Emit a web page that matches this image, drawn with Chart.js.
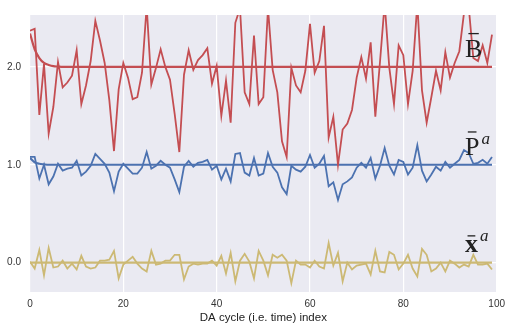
<!DOCTYPE html>
<html>
<head>
<meta charset="utf-8">
<script src="https://cdn.jsdelivr.net/npm/chart.js@4/dist/chart.umd.min.js"></script>
<style>
  html, body { margin: 0; padding: 0; background: #fff; }
  #wrap { width: 511px; height: 326px; }
</style>
</head>
<body>
<div id="wrap"><canvas id="grafico"></canvas></div>
<script>
// valores (indice 0..99)
const ciclos = Array.from({ length: 100 }, (_, i) => i)

const valoresB = [2.37, 2.39, 1.51, 2.03, 1.32, 1.59, 2.05, 1.79, 1.84, 1.91,
  2.17, 1.62, 1.81, 2.06, 2.47, 2.27, 2.04, 1.66, 1.14, 1.77,
  2.04, 1.89, 1.67, 1.69, 1.94, 2.62, 1.82, 1.99, 2.18, 2.00,
  1.87, 1.52, 1.13, 1.92, 2.17, 1.97, 2.07, 2.12, 2.19, 1.83,
  2.01, 1.50, 1.86, 1.43, 2.45, 2.60, 1.74, 1.62, 2.32, 1.62,
  1.69, 2.60, 1.97, 1.74, 1.24, 1.08, 1.99, 1.81, 1.74, 1.96,
  2.44, 1.94, 2.06, 2.42, 1.28, 1.49, 1.00, 1.36, 1.42, 1.56,
  1.89, 2.10, 1.88, 2.25, 1.49, 2.05, 2.65, 1.99, 1.62, 2.22,
  2.12, 1.62, 1.96, 2.65, 1.76, 1.43, 1.69, 1.96, 1.76, 2.15,
  1.89, 2.04, 2.16, 2.55, 2.62, 2.09, 2.06, 2.22, 2.04, 2.33]

const valoresP = [1.08, 1.08, 0.86, 1.00, 0.80, 0.88, 1.01, 0.94, 0.96, 0.97,
  1.04, 0.89, 0.93, 0.99, 1.11, 1.06, 1.01, 0.92, 0.73, 0.93,
  1.01, 0.96, 0.91, 0.91, 0.97, 1.13, 0.96, 0.99, 1.04, 1.00,
  0.97, 0.85, 0.72, 0.98, 1.04, 0.98, 1.02, 1.03, 1.05, 0.95,
  0.99, 0.85, 0.96, 0.83, 1.11, 1.12, 0.92, 0.89, 1.07, 0.89,
  0.91, 1.12, 0.98, 0.92, 0.77, 0.70, 0.99, 0.95, 0.93, 0.98,
  1.10, 0.97, 1.01, 1.09, 0.78, 0.82, 0.64, 0.80, 0.83, 0.87,
  0.97, 1.02, 0.97, 1.07, 0.86, 0.99, 1.17, 0.99, 0.90, 1.05,
  1.03, 0.90, 0.97, 1.20, 0.94, 0.83, 0.90, 0.98, 0.94, 1.03,
  0.97, 1.01, 1.05, 1.15, 1.12, 1.01, 1.02, 1.05, 1.01, 1.08]

const valoresX = [0.01, -0.06, 0.13, -0.13, 0.15, -0.05, -0.04, 0.02, -0.06, -0.01,
  -0.07, 0.07, -0.04, -0.06, -0.05, 0.02, 0.02, 0.03, 0.12, -0.16,
  -0.02, 0.02, 0.06, -0.01, -0.06, -0.09, 0.12, -0.02, -0.01, 0.02,
  0.02, 0.08, 0.08, -0.17, -0.04, -0.01, -0.02, -0.01, -0.01, 0.02,
  -0.03, 0.07, -0.11, 0.10, -0.19, 0.02, 0.09, 0.01, -0.16, 0.12,
  0.02, -0.13, 0.08, 0.05, 0.08, 0.02, -0.21, 0.02, -0.02, -0.02,
  -0.05, 0.02, -0.04, -0.06, 0.20, -0.03, 0.10, -0.19, 0.00, -0.07,
  -0.03, -0.02, -0.01, -0.12, 0.12, -0.09, -0.10, 0.11, 0.08, -0.07,
  -0.01, 0.08, -0.06, -0.14, 0.14, 0.08, -0.09, -0.06, 0.00, -0.09,
  0.02, -0.01, -0.05, -0.02, -0.04, 0.08, -0.02, -0.02, -0.01, -0.07]

// curvas teoricas (puntos x, y)
const teoricaB = [[0, 2.34], [1, 2.18], [2, 2.09], [3, 2.04], [4, 2.02], [5, 2.007], [6, 2.003], [7, 2.0], [99, 2.0]]
const teoricaP = [[0, 1.07], [1, 1.026], [2, 1.01], [3, 1.004], [4, 1.0], [99, 1.0]]
const teoricaX = [[0, 0.0], [99, 0.0]]

const ticksX = [0, 20, 40, 60, 80, 100]
const ticksY = [0, 1, 2]

const rojo = '#c44e52'
const azul = '#4c72b0'
const amarillo = '#ccb974'

function aPuntos(valores) {
  return valores.map((v, i) => ({ x: ciclos[i], y: v }))
}
function aXY(pares) {
  return pares.map(p => ({ x: p[0], y: p[1] }))
}

// fondo gris estilo seaborn
const fondo = {
  id: 'fondo',
  beforeDraw(chart) {
    const a = chart.chartArea
    const c = chart.ctx
    c.save()
    c.fillStyle = '#eaeaf2'
    c.fillRect(a.left, a.top, a.right - a.left, a.bottom - a.top)
    c.restore()
  }
}

// etiquetas a la derecha de cada curva
const etiquetas = {
  id: 'etiquetas',
  afterDatasetsDraw(chart) {
    const c = chart.ctx
    const sx = chart.scales.x
    const sy = chart.scales.y
    const items = [
      { letra: 'B', sup: '', y: 2.105, bold: false },
      { letra: 'P', sup: 'a', y: 1.10, bold: false },
      { letra: 'x', sup: 'a', y: 0.11, bold: true }
    ]
    c.save()
    c.fillStyle = '#222'
    c.strokeStyle = '#222'
    c.textBaseline = 'alphabetic'
    items.forEach(it => {
      const px = sx.getPixelForValue(93.2)
      const py = sy.getPixelForValue(it.y)
      c.font = (it.bold ? 'bold ' : '') + '26px "Liberation Serif"'
      c.fillText(it.letra, px, py)
      const w = c.measureText(it.letra).width
      // barra (macron)
      const alto = it.letra === 'x' ? 12 : 19
      c.lineWidth = 1.3
      c.beginPath()
      c.moveTo(px + w * 0.2, py - alto - 4)
      c.lineTo(px + w * 0.8, py - alto - 4)
      c.stroke()
      if (it.sup) {
        c.font = 'italic 17px "Liberation Serif"'
        c.fillText(it.sup, px + w + 2, py - 11)
      }
    })
    c.restore()
  }
}

const ctx = document.getElementById('grafico')

new Chart(ctx, {
  type: 'line',
  data: {
    datasets: [
      { data: aXY(teoricaB), borderColor: rojo, borderWidth: 2.2, cubicInterpolationMode: 'monotone' },
      { data: aPuntos(valoresB), borderColor: rojo, borderWidth: 1.8 },
      { data: aXY(teoricaP), borderColor: azul, borderWidth: 2.2, cubicInterpolationMode: 'monotone' },
      { data: aPuntos(valoresP), borderColor: azul, borderWidth: 1.8 },
      { data: aXY(teoricaX), borderColor: amarillo, borderWidth: 2.2 },
      { data: aPuntos(valoresX), borderColor: amarillo, borderWidth: 1.8 }
    ]
  },
  options: {
    responsive: true,
    maintainAspectRatio: false,
    animation: false,
    events: [],
    elements: { point: { radius: 0 }, line: { tension: 0 } },
    layout: { padding: { left: 0, right: 11, top: 5, bottom: 0 } },
    plugins: { legend: { display: false }, tooltip: { enabled: false } },
    scales: {
      x: {
        type: 'linear',
        min: 0,
        max: 100,
        afterBuildTicks: s => { s.ticks = ticksX.map(v => ({ value: v })) },
        afterFit: s => { s.height = 34 },
        grid: { color: '#ffffff', lineWidth: 1.2, drawTicks: false },
        border: { display: false },
        ticks: { color: '#333', padding: 6, font: { family: 'Liberation Sans', size: 10 } },
        title: {
          display: true,
          text: 'DA cycle (i.e. time) index',
          color: '#222',
          padding: { top: 0, bottom: 1 },
          font: { family: 'Liberation Sans', size: 11.5 }
        }
      },
      y: {
        min: -0.3,
        max: 2.53,
        afterBuildTicks: s => { s.ticks = ticksY.map(v => ({ value: v })) },
        afterFit: s => { s.width = 30 },
        grid: { color: '#ffffff', lineWidth: 1.2, drawTicks: false },
        border: { display: false },
        ticks: {
          color: '#333',
          padding: 9,
          font: { family: 'Liberation Sans', size: 10 },
          callback: v => v.toFixed(1)
        }
      }
    }
  },
  plugins: [fondo, etiquetas]
})
</script>
</body>
</html>
